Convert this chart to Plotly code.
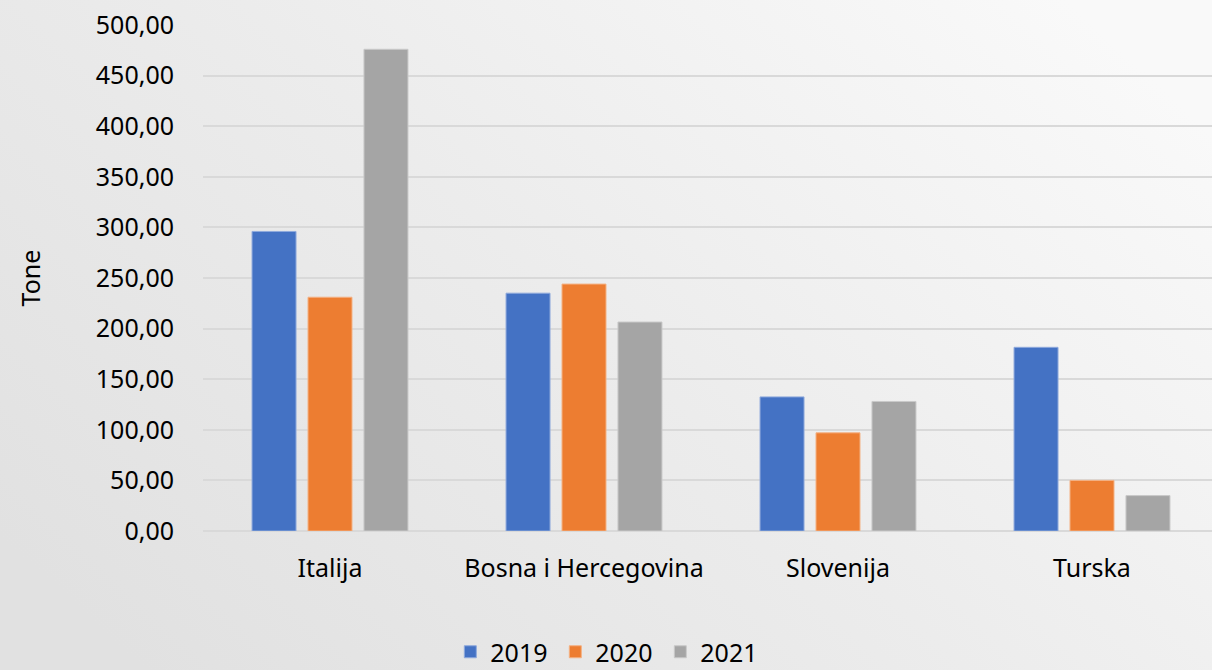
import base64
import plotly.graph_objects as go

categories = ["Italija", "Bosna i Hercegovina", "Slovenija", "Turska"]
years = ["2019", "2020", "2021"]
values_2019 = [296.0, 235.0, 132.5, 181.5]
values_2020 = [231.0, 244.0, 97.0, 50.0]
values_2021 = [476.0, 206.5, 128.0, 35.0]
colors = ["#4472C4", "#ED7D31", "#A5A5A5"]
edge_colors = ["#8FAADC", "#F4B183", "#C9C9C9"]
y_ticks = [0, 50, 100, 150, 200, 250, 300, 350, 400, 450, 500]

W, H = 1212, 670
ml, mr, mt, mb = 203, 0, 25, 139
pw, ph = W - ml - mr, H - mt - mb

svg = (
    '<svg xmlns="http://www.w3.org/2000/svg" width="1212" height="670" viewBox="0 0 1212 670" preserveAspectRatio="none">'
    '<defs><linearGradient id="g" x1="0" y1="0.8" x2="1" y2="0.2">'
    '<stop offset="0" stop-color="#e1e1e1"/><stop offset="0.5" stop-color="#ececec"/>'
    '<stop offset="1" stop-color="#f9f9f9"/></linearGradient></defs>'
    '<rect width="1212" height="670" fill="url(#g)"/></svg>'
)
src = "data:image/svg+xml;base64," + base64.b64encode(svg.encode()).decode()

fig = go.Figure()
for name, vals, c, e in zip(years, [values_2019, values_2020, values_2021], colors, edge_colors):
    fig.add_trace(go.Bar(x=categories, y=vals, name=name, marker=dict(color=c, line=dict(color=e, width=1))))

font = "Noto Sans"
fig.update_layout(
    width=W, height=H,
    margin=dict(l=ml, r=mr, t=mt, b=mb, autoexpand=False),
    paper_bgcolor="#ececec",
    plot_bgcolor="rgba(0,0,0,0)",
    barmode="group",
    bargap=0.339,
    bargroupgap=0.214,
    separators=", ",
    font=dict(family=font, size=25, color="#000000"),
    images=[dict(source=src, xref="paper", yref="paper",
                 x=-ml / pw, y=1 + mt / ph, sizex=W / pw, sizey=H / ph,
                 sizing="stretch", xanchor="left", yanchor="top", layer="below")],
    xaxis=dict(range=[-0.5, -0.5 + pw / 254], showgrid=False, showline=False, ticks="",
               tickfont=dict(family=font, size=25), ticklabelstandoff=20),
    yaxis=dict(range=[0, 500], tickvals=y_ticks, tickformat=".2f", showgrid=True,
               gridcolor="#d9d9d9", gridwidth=2, zeroline=True, zerolinecolor="#d9d9d9",
               zerolinewidth=2, showline=False, ticks="", ticklabelstandoff=28,
               tickfont=dict(family=font, size=25),
               title=dict(text="Tone", font=dict(family=font, size=25), standoff=48)),
    legend=dict(orientation="h", xref="container", yref="paper", x=0.5015, xanchor="center",
                y=-0.2846, yanchor="bottom", entrywidth=60, entrywidthmode="pixels",
                font=dict(family=font, size=25), itemwidth=30, traceorder="normal",
                bgcolor="rgba(0,0,0,0)"),
)
fig.write_html("out.html", config={"displayModeBar": False},
               post_script="document.body.style.margin='0';")
